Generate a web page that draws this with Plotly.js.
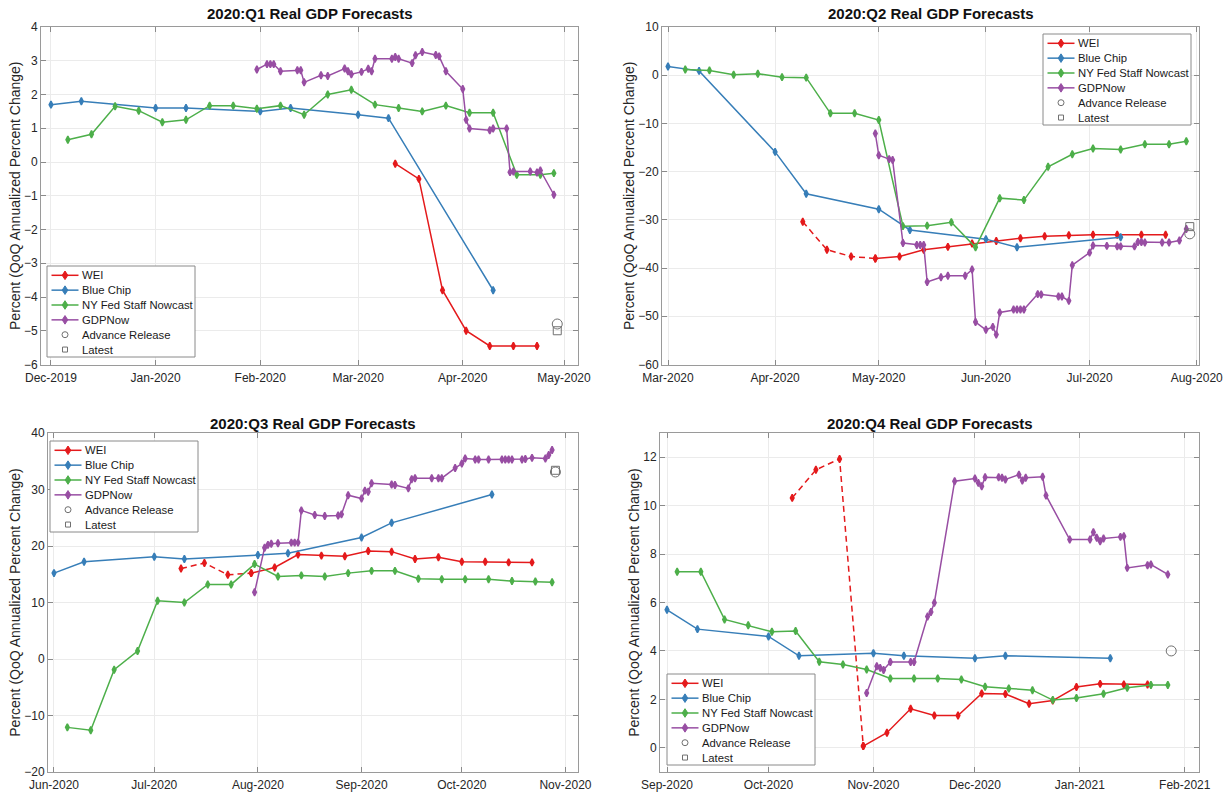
<!DOCTYPE html>
<html>
<head>
<meta charset="utf-8">
<script src="https://cdn.plot.ly/plotly-3.0.1.min.js"></script>
<style>
html,body{margin:0;padding:0;background:#fff;overflow:hidden}
#chart{width:1231px;height:794px}
</style>
</head>
<body>
<div id="chart"></div>
<script>
// ---------------- DATA ----------------
const panelTitles = ['2020:Q1 Real GDP Forecasts','2020:Q2 Real GDP Forecasts','2020:Q3 Real GDP Forecasts','2020:Q4 Real GDP Forecasts'];
const seriesNames = ['WEI','Blue Chip','NY Fed Staff Nowcast','GDPNow','Advance Release','Latest'];
const yTitle = 'Percent (QoQ Annualized Percent Change)';

// ---- 2020:Q1 ----
const q1WeiDates = ['2020-03-12','2020-03-19','2020-03-26','2020-04-02','2020-04-09','2020-04-16','2020-04-23'];
const q1Wei = [-0.05,-0.5,-3.8,-5.0,-5.45,-5.45,-5.45];
const q1BcDates = ['2019-12-01','2019-12-10','2020-01-01','2020-01-10','2020-02-01','2020-02-10','2020-03-01','2020-03-10','2020-04-10'];
const q1Bc = [1.7,1.8,1.6,1.6,1.5,1.6,1.4,1.3,-3.8];
const q1NyDates = ['2019-12-06','2019-12-13','2019-12-20','2019-12-27','2020-01-03','2020-01-10','2020-01-17','2020-01-24','2020-01-31','2020-02-07','2020-02-14','2020-02-21','2020-02-28','2020-03-06','2020-03-13','2020-03-20','2020-03-27','2020-04-03','2020-04-10','2020-04-17','2020-04-24','2020-04-28'];
const q1Ny = [0.66,0.82,1.65,1.52,1.18,1.25,1.67,1.67,1.58,1.67,1.40,2.00,2.14,1.70,1.60,1.50,1.67,1.46,1.46,-0.38,-0.38,-0.33];
const q1GdpDates = ['2020-01-31','2020-02-03','2020-02-04','2020-02-05','2020-02-07','2020-02-12','2020-02-13','2020-02-14','2020-02-19','2020-02-21','2020-02-26','2020-02-27','2020-02-28','2020-03-02','2020-03-04','2020-03-05','2020-03-06','2020-03-11','2020-03-12','2020-03-13','2020-03-17','2020-03-18','2020-03-20','2020-03-24','2020-03-25','2020-03-27','2020-04-01','2020-04-02','2020-04-03','2020-04-09','2020-04-10','2020-04-14','2020-04-15','2020-04-16','2020-04-21','2020-04-23','2020-04-24','2020-04-28'];
const q1Gdp = [2.74,2.90,2.90,2.90,2.69,2.72,2.72,2.36,2.57,2.55,2.77,2.69,2.60,2.67,2.76,2.69,3.06,3.06,3.11,3.06,2.93,3.16,3.26,3.17,3.13,2.69,2.16,1.25,0.99,0.94,0.99,0.99,-0.30,-0.28,-0.28,-0.31,-0.25,-0.97];
const q1AdvDate = '2020-04-29'; const q1Adv = -4.8; const q1Latest = -5.0;
const q1PriorAdvDate = '2020-01-30';

// ---- 2020:Q2 ----
const q2WeiDates = ['2020-04-09','2020-04-16','2020-04-23','2020-04-30','2020-05-07','2020-05-14','2020-05-21','2020-05-28','2020-06-04','2020-06-11','2020-06-18','2020-06-25','2020-07-02','2020-07-09','2020-07-16','2020-07-23'];
const q2Wei = [-30.4,-36.2,-37.6,-38.0,-37.6,-36.2,-35.6,-34.9,-34.4,-33.8,-33.4,-33.2,-33.1,-33.1,-33.1,-33.1];
const q2BcDates = ['2020-03-01','2020-03-10','2020-04-01','2020-04-10','2020-05-01','2020-05-10','2020-06-01','2020-06-10','2020-07-10'];
const q2Bc = [1.8,0.9,-15.9,-24.6,-27.8,-32.1,-34.0,-35.7,-33.6];
const q2NyDates = ['2020-03-06','2020-03-13','2020-03-20','2020-03-27','2020-04-03','2020-04-10','2020-04-17','2020-04-24','2020-05-01','2020-05-08','2020-05-15','2020-05-22','2020-05-29','2020-06-05','2020-06-12','2020-06-19','2020-06-26','2020-07-02','2020-07-10','2020-07-17','2020-07-24','2020-07-29'];
const q2Ny = [1.2,1.0,0.1,0.3,-0.4,-0.5,-7.9,-7.9,-9.3,-31.3,-31.2,-30.5,-35.7,-25.5,-25.9,-19.0,-16.4,-15.2,-15.4,-14.3,-14.3,-13.7];
const q2GdpDates = ['2020-04-30','2020-05-01','2020-05-04','2020-05-05','2020-05-08','2020-05-12','2020-05-13','2020-05-14','2020-05-15','2020-05-19','2020-05-21','2020-05-26','2020-05-28','2020-05-29','2020-06-01','2020-06-03','2020-06-04','2020-06-05','2020-06-09','2020-06-10','2020-06-11','2020-06-12','2020-06-16','2020-06-17','2020-06-22','2020-06-23','2020-06-25','2020-06-26','2020-07-01','2020-07-02','2020-07-06','2020-07-09','2020-07-10','2020-07-14','2020-07-15','2020-07-16','2020-07-17','2020-07-22','2020-07-24','2020-07-27','2020-07-29'];
const q2Gdp = [-12.1,-16.6,-17.4,-17.6,-34.8,-35.2,-35.2,-35.2,-42.9,-41.9,-41.6,-41.6,-40.3,-51.2,-52.8,-52.2,-53.8,-49.2,-48.6,-48.6,-48.6,-48.6,-45.4,-45.5,-45.9,-45.9,-46.8,-39.4,-36.8,-35.3,-35.4,-35.5,-35.5,-35.5,-34.6,-34.6,-34.7,-34.7,-34.7,-34.3,-31.9];
const q2AdvDate = '2020-07-30'; const q2Adv = -32.9; const q2Latest = -31.4;
const q2PriorAdvDate = '2020-04-29';

// ---- 2020:Q3 ----
const q3WeiDates = ['2020-07-09','2020-07-16','2020-07-23','2020-07-30','2020-08-06','2020-08-13','2020-08-20','2020-08-27','2020-09-03','2020-09-10','2020-09-17','2020-09-24','2020-10-01','2020-10-08','2020-10-15','2020-10-22'];
const q3Wei = [16.0,17.0,14.9,15.2,16.2,18.5,18.3,18.2,19.1,19.0,17.7,18.0,17.2,17.2,17.1,17.1];
const q3BcDates = ['2020-06-01','2020-06-10','2020-07-01','2020-07-10','2020-08-01','2020-08-10','2020-09-01','2020-09-10','2020-10-10'];
const q3Bc = [15.2,17.2,18.1,17.7,18.4,18.7,21.5,24.1,29.1];
const q3NyDates = ['2020-06-05','2020-06-12','2020-06-19','2020-06-26','2020-07-02','2020-07-10','2020-07-17','2020-07-24','2020-07-31','2020-08-07','2020-08-14','2020-08-21','2020-08-28','2020-09-04','2020-09-11','2020-09-18','2020-09-25','2020-10-02','2020-10-09','2020-10-16','2020-10-23','2020-10-28'];
const q3Ny = [-12.1,-12.6,-1.9,1.4,10.3,10.0,13.2,13.2,16.8,14.6,14.8,14.6,15.2,15.6,15.6,14.2,14.1,14.1,14.1,13.8,13.7,13.6];
const q3GdpDates = ['2020-07-31','2020-08-03','2020-08-04','2020-08-05','2020-08-07','2020-08-11','2020-08-12','2020-08-13','2020-08-14','2020-08-18','2020-08-21','2020-08-25','2020-08-26','2020-08-28','2020-09-01','2020-09-02','2020-09-03','2020-09-04','2020-09-10','2020-09-11','2020-09-15','2020-09-16','2020-09-17','2020-09-22','2020-09-24','2020-09-25','2020-09-29','2020-10-01','2020-10-02','2020-10-05','2020-10-06','2020-10-09','2020-10-13','2020-10-14','2020-10-15','2020-10-16','2020-10-19','2020-10-20','2020-10-22','2020-10-26','2020-10-27','2020-10-28'];
const q3Gdp = [11.8,19.7,20.2,20.4,20.5,20.6,20.6,20.6,26.3,25.5,25.3,25.4,25.6,29.0,28.4,29.8,29.6,31.1,30.9,30.8,30.2,31.8,32.0,32.0,32.0,32.0,33.8,34.6,35.5,35.3,35.3,35.3,35.3,35.3,35.3,35.3,35.3,35.4,35.6,35.5,36.1,37.0];
const q3AdvDate = '2020-10-29'; const q3Adv = 33.1; const q3Latest = 33.4;
const q3PriorAdvDate = '2020-07-30';

// ---- 2020:Q4 ----
const q4WeiDates = ['2020-10-08','2020-10-15','2020-10-22','2020-10-29','2020-11-05','2020-11-12','2020-11-19','2020-11-26','2020-12-03','2020-12-10','2020-12-17','2020-12-24','2020-12-31','2021-01-07','2021-01-14','2021-01-21'];
const q4Wei = [10.32,11.48,11.93,0.07,0.62,1.61,1.33,1.33,2.24,2.22,1.82,1.95,2.51,2.64,2.61,2.61];
const q4BcDates = ['2020-09-01','2020-09-10','2020-10-01','2020-10-10','2020-11-01','2020-11-10','2020-12-01','2020-12-10','2021-01-10'];
const q4Bc = [5.7,4.9,4.6,3.8,3.9,3.8,3.7,3.8,3.7];
const q4NyDates = ['2020-09-04','2020-09-11','2020-09-18','2020-09-25','2020-10-02','2020-10-09','2020-10-16','2020-10-23','2020-10-30','2020-11-06','2020-11-13','2020-11-20','2020-11-27','2020-12-04','2020-12-11','2020-12-18','2020-12-24','2020-12-31','2021-01-08','2021-01-15','2021-01-22','2021-01-27'];
const q4Ny = [7.27,7.27,5.30,5.06,4.79,4.82,3.55,3.44,3.23,2.86,2.86,2.86,2.82,2.52,2.45,2.38,1.97,2.06,2.23,2.48,2.59,2.59];
const q4GdpDates = ['2020-10-30','2020-11-02','2020-11-03','2020-11-04','2020-11-06','2020-11-12','2020-11-13','2020-11-17','2020-11-18','2020-11-19','2020-11-25','2020-12-01','2020-12-02','2020-12-03','2020-12-04','2020-12-08','2020-12-09','2020-12-10','2020-12-14','2020-12-15','2020-12-16','2020-12-21','2020-12-22','2020-12-29','2021-01-04','2021-01-05','2021-01-06','2021-01-07','2021-01-08','2021-01-13','2021-01-14','2021-01-15','2021-01-21','2021-01-22','2021-01-27'];
const q4Gdp = [2.26,3.37,3.30,3.21,3.54,3.54,3.54,5.42,5.61,5.99,11.01,11.12,10.94,10.80,11.17,11.17,11.15,11.08,11.28,11.04,11.15,11.19,10.42,8.60,8.60,8.90,8.67,8.53,8.64,8.71,8.74,7.43,7.54,7.57,7.16];
const q4AdvDate = '2021-01-28'; const q4Adv = 4.0; const q4Latest = null;
const q4PriorAdvDate = '2020-10-29';

// ---------------- STYLE / LAYOUT ----------------
const W = 1231, H = 794;
const X = p => p / W, Y = p => 1 - p / H;
const COLORS = ['#e41a1c', '#377eb8', '#4daf4a', '#984ea3'];
const GRAY = '#707070';

const panels = [
  {ax:'', wd:q1WeiDates, w:q1Wei, bd:q1BcDates, b:q1Bc, nd:q1NyDates, n:q1Ny, gd:q1GdpDates, g:q1Gdp, ad:q1AdvDate, a:q1Adv, l:q1Latest, prior:q1PriorAdvDate,
   box:[41,578,27,364.5], xr:['2019-11-28 01:00','2020-05-05 03:30'], yr:[-6,4], dt:1, leg:[47,266], tY:14},
  {ax:'2', wd:q2WeiDates, w:q2Wei, bd:q2BcDates, b:q2Bc, nd:q2NyDates, n:q2Ny, gd:q2GdpDates, g:q2Gdp, ad:q2AdvDate, a:q2Adv, l:q2Latest, prior:q2PriorAdvDate,
   box:[662,1199,27,364.5], xr:['2020-02-28 06:20','2020-08-01 16:00'], yr:[-60,10], dt:10, leg:[1043,34], tY:14},
  {ax:'3', wd:q3WeiDates, w:q3Wei, bd:q3BcDates, b:q3Bc, nd:q3NyDates, n:q3Ny, gd:q3GdpDates, g:q3Gdp, ad:q3AdvDate, a:q3Adv, l:q3Latest, prior:q3PriorAdvDate,
   box:[48,578,433,772], xr:['2020-05-30 05:00','2020-11-04 18:00'], yr:[-20,40], dt:10, leg:[50,441], tY:424},
  {ax:'4', wd:q4WeiDates, w:q4Wei, bd:q4BcDates, b:q4Bc, nd:q4NyDates, n:q4Ny, gd:q4GdpDates, g:q4Gdp, ad:q4AdvDate, a:q4Adv, l:q4Latest, prior:q4PriorAdvDate,
   box:[660,1199,433,772], xr:['2020-08-29 22:20','2021-02-05 05:00'], yr:[-1,13], dt:2, leg:[667,674], tY:424}
];

function line(x, y, color, ax, dash) {
  return {type:'scatter', mode:'lines+markers', x:x, y:y, xaxis:'x'+ax, yaxis:'y'+ax,
    line:{color:color, width:1.5, dash:dash || 'solid'},
    marker:{symbol:'diamond-tall', size:5.2, color:color, line:{color:color, width:1.5}},
    showlegend:false, hoverinfo:'x+y'};
}

const traces = [];
const layout = {
  width:W, height:H, margin:{l:0,r:0,t:0,b:0}, paper_bgcolor:'#fff', plot_bgcolor:'#fff',
  font:{family:'"Liberation Sans", Arial, Helvetica, sans-serif', color:'#262626'},
  showlegend:false, annotations:[], shapes:[]
};

panels.forEach((p, i) => {
  // WEI: dashed before prior-quarter advance release, solid afterwards
  let split = p.wd.findIndex(d => d >= p.prior);
  if (split > 0) {
    traces.push(line(p.wd.slice(0, split + 1), p.w.slice(0, split + 1), COLORS[0], p.ax, '6px,4px'));
    traces.push(line(p.wd.slice(split), p.w.slice(split), COLORS[0], p.ax));
  } else {
    traces.push(line(p.wd, p.w, COLORS[0], p.ax));
  }
  traces.push(line(p.bd, p.b, COLORS[1], p.ax));
  traces.push(line(p.nd, p.n, COLORS[2], p.ax));
  traces.push(line(p.gd, p.g, COLORS[3], p.ax));
  traces.push({type:'scatter', mode:'markers', x:[p.ad], y:[p.a], xaxis:'x'+p.ax, yaxis:'y'+p.ax,
    marker:{symbol:'circle-open', size:10, color:GRAY, line:{width:1}}, showlegend:false});
  if (p.l !== null) {
    traces.push({type:'scatter', mode:'markers', x:[p.ad], y:[p.l], xaxis:'x'+p.ax, yaxis:'y'+p.ax,
      marker:{symbol:'square-open', size:8, color:GRAY, line:{width:1}}, showlegend:false});
  }

  const common = {ticks:'inside', ticklen:5, tickcolor:'#8a8a8a', tickwidth:1, showline:true, mirror:'ticks',
    linecolor:'#9a9a9a', linewidth:1, showgrid:true, gridcolor:'#ebebeb', gridwidth:1, zeroline:false,
    tickfont:{size:12, color:'#262626'}, fixedrange:true};
  layout['xaxis'+p.ax] = Object.assign({}, common, {
    domain:[X(p.box[0]), X(p.box[1])], range:p.xr, type:'date', anchor:'y'+p.ax,
    dtick:'M1', tick0:'2019-12-01', tickformat:'%b-%Y', ticklabelstandoff:2});
  layout['yaxis'+p.ax] = Object.assign({}, common, {
    domain:[Y(p.box[3]), Y(p.box[2])], range:p.yr, dtick:p.dt, tick0:0, anchor:'x'+p.ax,
    title:{text:yTitle, font:{size:14, color:'#262626'}, standoff:0}});

  // subplot title
  layout.annotations.push({xref:'paper', yref:'paper', x:X((p.box[0]+p.box[1])/2), y:Y(p.tY),
    xanchor:'center', yanchor:'middle', showarrow:false, text:'<b>'+panelTitles[i]+'</b>',
    font:{size:15, color:'#111'}});

  // legend (MATLAB-style box)
  const lx = p.leg[0], ly = p.leg[1], lw = 148, lh = 91;
  layout.shapes.push({type:'rect', xref:'paper', yref:'paper', x0:X(lx), x1:X(lx+lw), y0:Y(ly+lh), y1:Y(ly),
    fillcolor:'#ffffff', line:{color:'#8a8a8a', width:1}, layer:'above'});
  for (let k = 0; k < 6; k++) {
    const cy = ly + 9.3 + k * 14.85, cx = lx + 18;
    if (k < 4) {
      const c = COLORS[k];
      layout.shapes.push({type:'line', xref:'paper', yref:'paper', x0:X(lx+4.5), x1:X(lx+31.5), y0:Y(cy), y1:Y(cy),
        line:{color:c, width:1.5}, layer:'above'});
      layout.shapes.push({type:'path', xref:'paper', yref:'paper', layer:'above',
        path:'M'+X(cx)+','+Y(cy-4.3)+' L'+X(cx+2.8)+','+Y(cy)+' L'+X(cx)+','+Y(cy+4.3)+' L'+X(cx-2.8)+','+Y(cy)+' Z',
        fillcolor:c, line:{color:c, width:1}});
    } else if (k === 4) {
      layout.shapes.push({type:'circle', xref:'paper', yref:'paper', layer:'above',
        x0:X(cx-3), x1:X(cx+3), y0:Y(cy+3), y1:Y(cy-3), line:{color:GRAY, width:1}});
    } else {
      layout.shapes.push({type:'rect', xref:'paper', yref:'paper', layer:'above',
        x0:X(cx-2.5), x1:X(cx+2.5), y0:Y(cy+2.5), y1:Y(cy-2.5), line:{color:GRAY, width:1}});
    }
    layout.annotations.push({xref:'paper', yref:'paper', x:X(lx+32.5), y:Y(cy), xanchor:'left', yanchor:'middle',
      showarrow:false, text:seriesNames[k], font:{size:11.3, color:'#1a1a1a'}});
  }
});

Plotly.newPlot('chart', traces, layout, {staticPlot:true, displayModeBar:false});
</script>
</body>
</html>
